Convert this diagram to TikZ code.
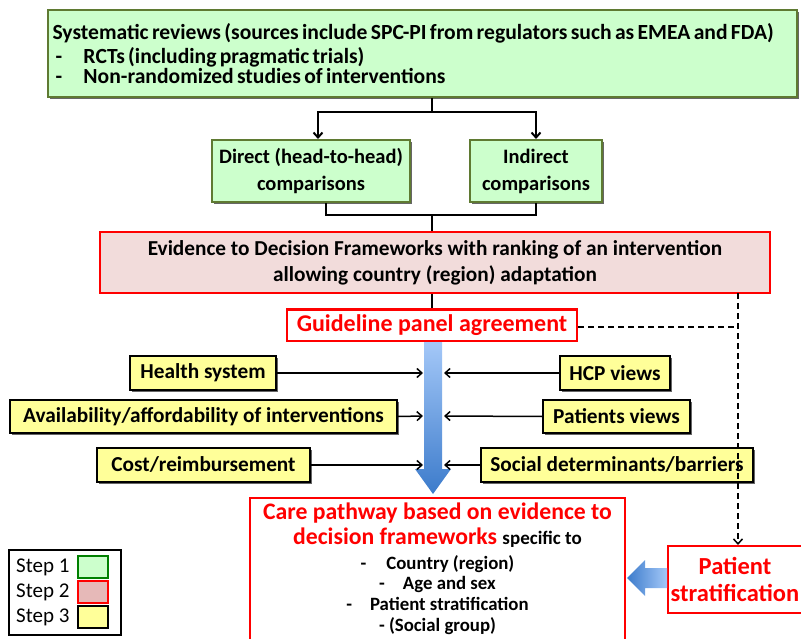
\documentclass[tikz,border=0pt]{standalone}
\usepackage{fontspec}
\setmainfont{Carlito}
\usetikzlibrary{arrows.meta,shadows}
\definecolor{gfill}{HTML}{CCFFCC}
\definecolor{gline}{HTML}{5F7A32}
\definecolor{pfill}{HTML}{F2DCDB}
\definecolor{yfill}{HTML}{FFFF99}
\definecolor{bluetop}{HTML}{A4C8F8}
\definecolor{bluebot}{HTML}{3C7BCB}
\definecolor{lgreen}{HTML}{008000}
\definecolor{lpink}{HTML}{E6B9B8}
\tikzset{
  gbox/.style={draw=gline, line width=2pt, fill=gfill, drop shadow={shadow xshift=2pt, shadow yshift=-2pt, opacity=0.6, fill=black}},
  rbox/.style={draw=red, line width=2pt, fill=pfill},
  wbox/.style={draw=red, line width=2pt, fill=white, text=red},
  ybox/.style={draw=black, line width=2pt, fill=yfill, inner sep=0pt, drop shadow={shadow xshift=2pt, shadow yshift=-2pt, opacity=0.6, fill=black}, font=\fontsize{21.3}{24}\selectfont\bfseries},
  conn/.style={line width=2pt, black},
  inarrow/.style={line width=1.5pt, -{Straight Barb[length=5pt,width=9pt]}},
  dconn/.style={line width=1.5pt, dashed, dash pattern=on 6pt off 4pt},
  swatch/.style={line width=2pt, minimum width=30, minimum height=22, inner sep=0pt},
  legtext/.style={anchor=west, inner sep=0pt, font=\fontsize{21}{22}\selectfont},
}
\begin{document}
\begin{tikzpicture}[x=1pt,y=-1pt]
\useasboundingbox (0,0) rectangle (801,639);
\clip (0,0) rectangle (801,639);
% Step 1
\node[gbox, minimum width=749, minimum height=87, text width=740pt, align=left, inner sep=4.5pt] (top) at (422.5,53.5)
 {\fontsize{21.6}{23.5}\selectfont\bfseries Systematic reviews (sources include SPC-PI from regulators such as EMEA and FDA)\\
  \hspace*{3pt}\makebox[28pt][l]{-}RCTs (including pragmatic trials)\\
  \hspace*{3pt}\makebox[28pt][l]{-}Non-randomized studies of interventions};
\node[gbox, minimum width=198, minimum height=62, align=center, inner sep=0pt, font=\fontsize{20.5}{27}\selectfont\bfseries] (direct) at (311,171) {Direct (head-to-head)\\comparisons};
\node[gbox, minimum width=132, minimum height=62, align=center, inner sep=0pt, font=\fontsize{20.5}{27}\selectfont\bfseries] (indirect) at (536,171) {Indirect\\comparisons};
% Step 2
\node[rbox, minimum width=670, minimum height=61, align=center, inner sep=0pt, font=\fontsize{21.3}{26}\selectfont\bfseries] (evid) at (435,262.5) {Evidence to Decision Frameworks with ranking of an intervention\\allowing country (region) adaptation};
\node[wbox, minimum width=290, minimum height=31, inner sep=0pt, font=\fontsize{24}{26}\selectfont\bfseries] (guide) at (432,325) {Guideline panel agreement};
% connectors
\coordinate (split1) at (432,112);
\coordinate (split2) at (432,215);
\draw[conn] (top.south -| split1) -- (split1);
\draw[conn, -{Straight Barb[length=5pt,width=9pt]}] (split1) -| ([xshift=7pt]direct.north);
\draw[conn, -{Straight Barb[length=5pt,width=9pt]}] (split1) -| (indirect.north);
\draw[conn] ([xshift=15pt]direct.south) |- (split2);
\draw[conn] (indirect.south) |- (split2);
\draw[conn] (split2) -- (evid.north -| split2);
\draw[conn] (evid.south -| split2) -- (guide.north -| split2);
% blue gradient arrow
\shade[top color=bluetop, bottom color=bluebot]
  (424,342) -- (442,342) -- (442,469) -- (451,469) -- (433,494) -- (415,469) -- (424,469) -- cycle;
\coordinate (aL1) at (423,373); \coordinate (aR1) at (444,373);
\coordinate (aL2) at (423,416); \coordinate (aR2) at (444,416);
\coordinate (aL3) at (423,465); \coordinate (aR3) at (444,465);
% Step 3
\node[ybox, minimum width=146, minimum height=34] (health) at (203,373) {Health system};
\node[ybox, minimum width=110, minimum height=34] (hcp) at (615,373) {HCP views};
\node[ybox, minimum width=387, minimum height=33] (avail) at (203.5,416.5) {Availability/affordability of interventions};
\node[ybox, minimum width=147, minimum height=33] (pviews) at (616.5,416.5) {Patients views};
\node[ybox, minimum width=213, minimum height=34] (cost) at (203.5,465) {Cost/reimbursement};
\node[ybox, minimum width=272, minimum height=34] (social) at (617,465) {Social determinants/barriers};
\draw[inarrow] (health.east) -- (aL1);
\draw[inarrow] (hcp.west) -- (aR1);
\draw[inarrow] (avail.east) -- (aL2);
\draw[inarrow] (pviews.west) -- (aR2);
\draw[inarrow] (cost.east) -- (aL3);
\draw[inarrow] (social.west) -- (aR3);
% care pathway
\node[draw=red, line width=2pt, fill=white, minimum width=375, minimum height=170, anchor=north] (path) at (437.5,497) {};
\node[align=center, anchor=north, inner sep=0pt, text=red, font=\fontsize{23.7}{25}\selectfont\bfseries] (ptitle) at (437.5,503)
 {Care pathway based on evidence to\\decision frameworks {\color{black}\fontsize{19}{25}\selectfont specific to}};
\node[align=center, anchor=north, inner sep=0pt, font=\fontsize{18.8}{20.7}\selectfont\bfseries] (plist) at (437.5,555)
 {-\hspace{20pt}Country (region)\\ -\hspace{18pt}Age and sex\\ -\hspace{18pt}Patient stratification\\ - (Social group)};
% patient stratification
\node[wbox, minimum width=145, minimum height=67, anchor=north west, inner sep=0pt] (pstrat) at (667,545) {};
\node[align=center, text=red, font=\fontsize{24.5}{27}\selectfont\bfseries, inner sep=0pt] (pstext) at (735,579) {Patient\\stratification};
\shade[left color=bluebot, right color=bluetop]
  (667,568) -- (645,568) -- (645,560) -- (627,578) -- (645,596) -- (645,588) -- (667,588) -- cycle;
\coordinate (dv) at (738,293);
\coordinate (dh) at (738,327);
\draw[dconn] (guide.east |- dh) -- (dh);
\draw[dconn, -{Straight Barb[length=5pt,width=9pt]}] (dv) -- (dv |- pstrat.north);
% legend
\node[draw=black, line width=1.5pt, minimum width=112, minimum height=85, anchor=north west] (legend) at (8,549) {};
\node[legtext] (l1) at (16,567) {Step 1};
\node[legtext] (l2) at (16,592) {Step 2};
\node[legtext] (l3) at (16,617) {Step 3};
\node[swatch, draw=lgreen, fill=gfill] (s1) at (93,567) {};
\node[swatch, draw=red, fill=lpink] (s2) at (93,592) {};
\node[swatch, draw=black, fill=yfill] (s3) at (93,617) {};
\end{tikzpicture}
\end{document}
